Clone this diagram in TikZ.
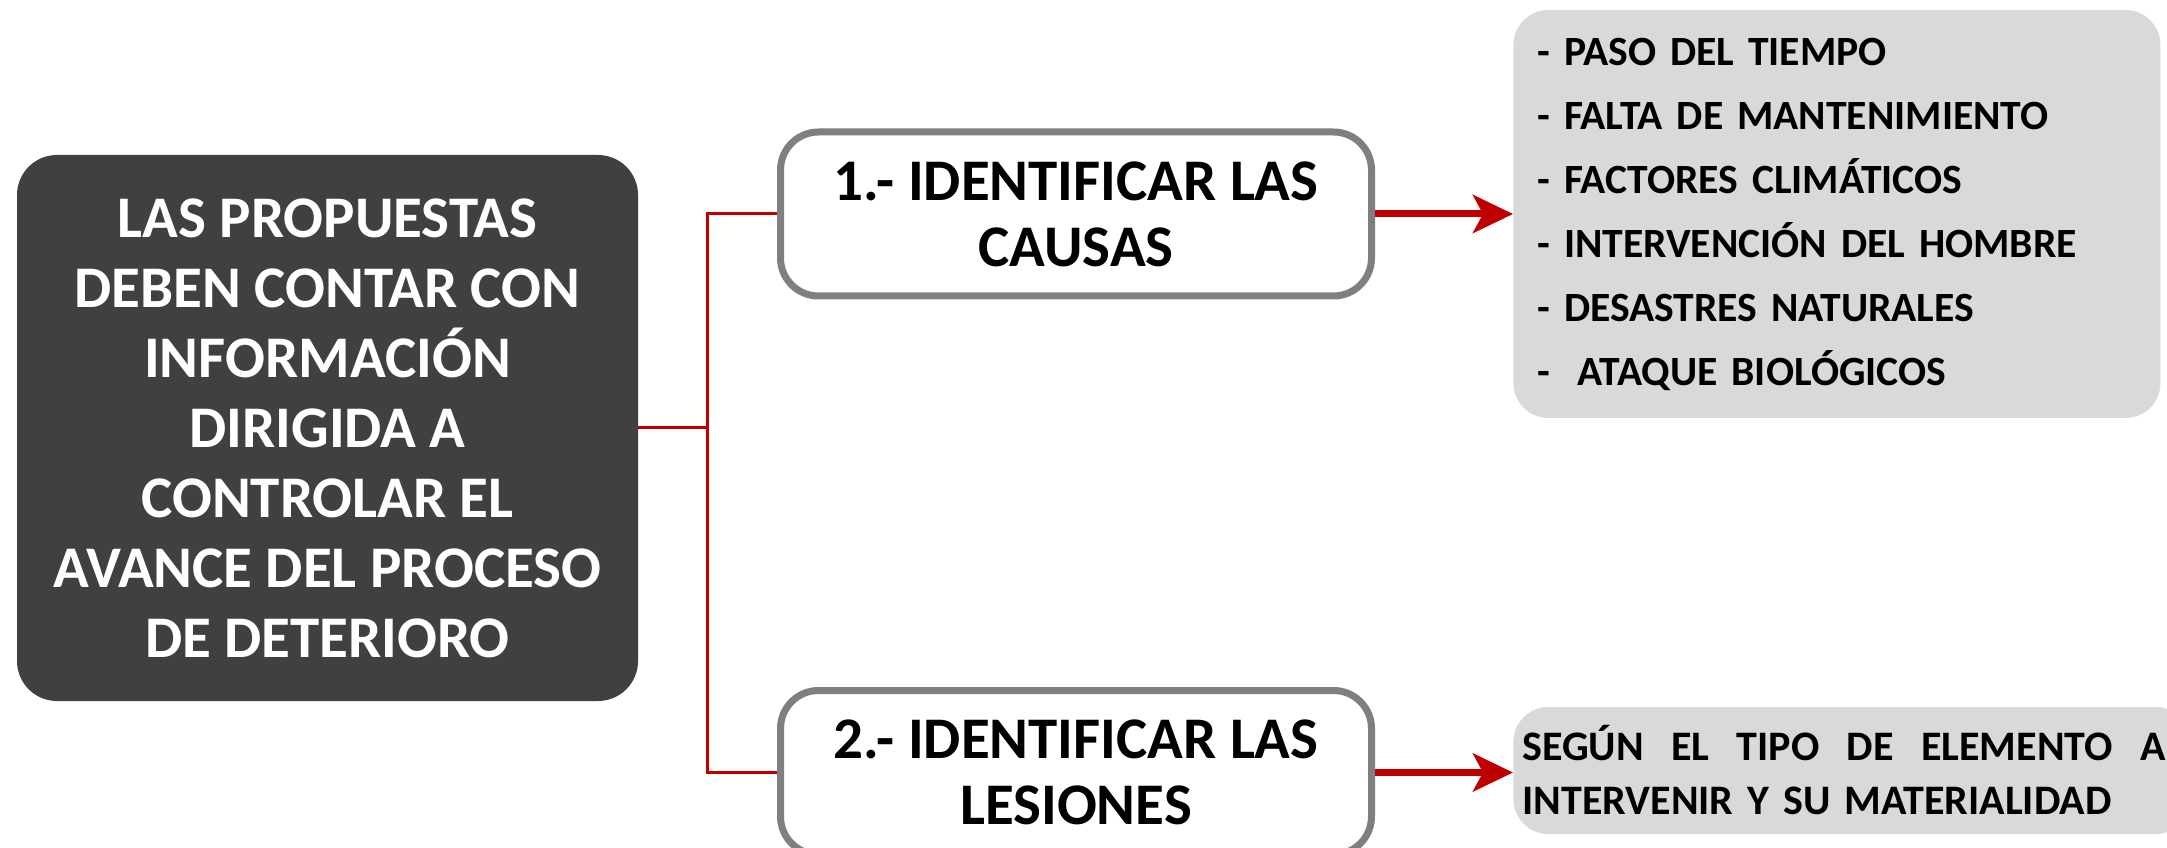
\documentclass[tikz,border=0pt]{standalone}
\usepackage{fontspec}
\setmainfont{Carlito}
\usetikzlibrary{positioning,arrows.meta}
\definecolor{slatedark}{RGB}{64,64,64}
\definecolor{framegray}{RGB}{127,127,127}
\definecolor{panelgray}{RGB}{217,217,217}
\definecolor{linkred}{RGB}{192,0,0}
\tikzset{
  leadbox/.style={fill=slatedark,rounded corners=20pt,text=white,
    font=\bfseries\fontsize{29.5}{35}\selectfont,align=center,
    minimum width=310.5pt,minimum height=273pt,inner sep=0pt},
  stepbox/.style={draw=framegray,line width=3.5pt,fill=white,rounded corners=19pt,
    font=\bfseries\fontsize{29.5}{33}\selectfont,align=center,
    minimum width=295.5pt,minimum height=82pt,inner sep=0pt},
  listbox/.style={fill=panelgray,rounded corners=17.5pt,anchor=west,align=left},
  trunk/.style={draw=linkred,line width=1.5pt},
  bigarrow/.style={draw=linkred,line width=3.5pt,
    -{Stealth[length=20pt,width=19pt,inset=5pt]}}
}
\begin{document}
\begin{tikzpicture}[x=0.5pt,y=0.5pt]
  \path[use as bounding box,fill=white] (0,0) rectangle (2167,847);
  \clip (0,0) rectangle (2167,847);
  \node[leadbox] (lead) at (327.5,419)
    {LAS PROPUESTAS\\DEBEN CONTAR CON\\INFORMACIÓN\\DIRIGIDA A\\
     CONTROLAR EL\\AVANCE DEL PROCESO\\DE DETERIORO};
  \node[stepbox] (cause) at (1076,633) {1.- IDENTIFICAR LAS\\CAUSAS};
  \node[stepbox] (lesion) at (1076,74.5) {2.- IDENTIFICAR LAS\\LESIONES};
  \node[listbox,text width=299.5pt,inner xsep=12pt,minimum height=204pt,
        font=\bfseries\fontsize{20.8}{32}\selectfont]
    (causelist) at (1513,633)
    {- PASO DEL TIEMPO\\- FALTA DE MANTENIMIENTO\\- FACTORES CLIMÁTICOS\\
     - INTERVENCIÓN DEL HOMBRE\\- DESASTRES NATURALES\\- \ ATAQUE BIOLÓGICOS};
  \node[listbox,text width=329.5pt,inner xsep=4.5pt,minimum height=63.5pt,
        font=\bfseries\fontsize{21}{27}\selectfont]
    (lesionlist) at (1513,76.5)
    {\makebox[321.5pt][s]{SEGÚN\hfill EL\hfill TIPO\hfill DE\hfill ELEMENTO\hfill A}\\
     INTERVENIR Y SU MATERIALIDAD};
  % red links
  \coordinate (split) at (707,419);
  \draw[trunk] (lead.east) -- (split);
  \draw[trunk] (split) |- (cause.west);
  \draw[trunk] (split) |- (lesion.west);
  \draw[bigarrow] (cause.east) -- (causelist.west |- cause.east);
  \draw[bigarrow] (lesion.east) -- (lesionlist.west |- lesion.east);
\end{tikzpicture}
\end{document}
